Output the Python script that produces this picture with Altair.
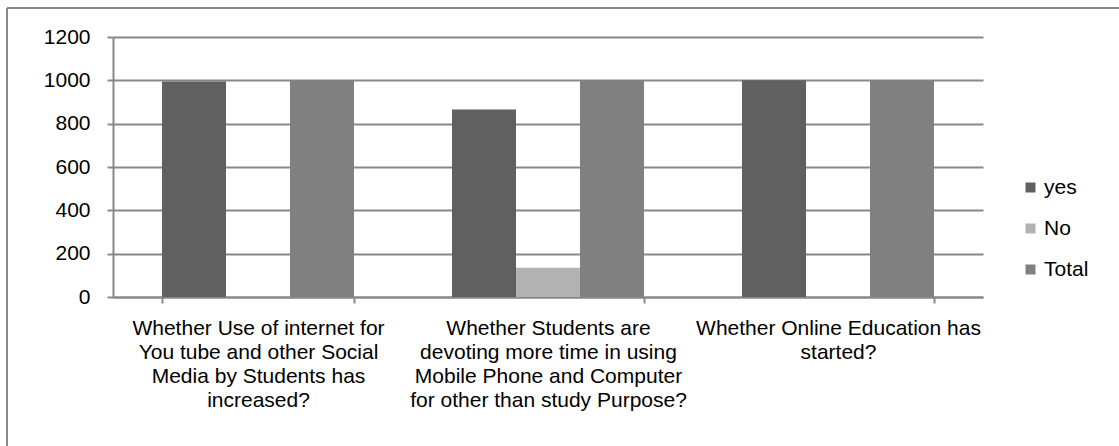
import altair as alt
import pandas as pd

categories = [
    "Whether Use of internet for\nYou tube and other Social\nMedia by Students has\nincreased?",
    "Whether Students are\ndevoting more time in using\nMobile Phone and Computer\nfor other than study Purpose?",
    "Whether Online Education has\nstarted?",
]
series = ["yes", "No", "Total"]
yes_vals = [995, 865, 1000]
no_vals = [0, 135, 0]
total_vals = [1000, 1000, 1000]
colors = ["#606060", "#b2b2b2", "#808080"]
y_ticks = [0, 200, 400, 600, 800, 1000, 1200]

rows = []
for i, c in enumerate(categories):
    rows.append({"cat": c, "series": "yes", "value": yes_vals[i]})
    rows.append({"cat": c, "series": "No", "value": no_vals[i]})
    rows.append({"cat": c, "series": "Total", "value": total_vals[i]})
df = pd.DataFrame(rows)

FONT = "Liberation Sans, Arial, sans-serif"
GRID = "#888888"

bars = alt.Chart(df).mark_bar().encode(
    x=alt.X(
        "cat:N",
        sort=categories,
        scale=alt.Scale(paddingInner=0.338, paddingOuter=0.169),
        axis=alt.Axis(
            title=None,
            labelAngle=0,
            labelLimit=400,
            labelExpr="split(datum.label, '\\n')",
            labelFont=FONT,
            labelFontSize=21,
            labelColor="#000000",
            labelLineHeight=24,
            labelBaseline="top",
            labelPadding=14,
            tickBand="extent",
            tickSize=6,
            tickColor=GRID,
            tickWidth=2,
            domainColor=GRID,
            domainWidth=2,
            grid=False,
        ),
    ),
    xOffset=alt.XOffset(
        "series:N",
        sort=series,
        scale=alt.Scale(domain=series, paddingInner=0, paddingOuter=0),
    ),
    y=alt.Y(
        "value:Q",
        scale=alt.Scale(domain=[0, 1200], nice=False),
        axis=alt.Axis(
            title=None,
            values=y_ticks,
            format="d",
            labelFont=FONT,
            labelFontSize=21,
            labelColor="#000000",
            labelPadding=17,
            tickSize=6,
            tickColor=GRID,
            tickWidth=2,
            domainColor=GRID,
            domainWidth=2,
            grid=True,
            gridColor=GRID,
            gridWidth=2,
        ),
    ),
    color=alt.Color(
        "series:N",
        sort=series,
        scale=alt.Scale(domain=series, range=colors),
        legend=alt.Legend(
            title=None,
            orient="none",
            legendX=907,
            legendY=140,
            symbolType="square",
            symbolSize=100,
            symbolStrokeWidth=0,
            labelFont=FONT,
            labelFontSize=21,
            labelColor="#000000",
            labelOffset=3,
            rowPadding=19,
            padding=0,
        ),
    ),
)

frame_df = pd.DataFrame([{"k": 1}])
top_line = alt.Chart(frame_df).mark_rule(color=GRID, strokeWidth=2).encode(
    x=alt.value(-106), x2=alt.value(1006), y=alt.value(-29)
)
left_line = alt.Chart(frame_df).mark_rule(color=GRID, strokeWidth=2).encode(
    x=alt.value(-106), y=alt.value(-29), y2=alt.value(409)
)

chart = (
    alt.layer(bars, top_line, left_line)
    .properties(
        width=870,
        height=260,
        padding={"left": 113, "top": 37, "right": 136, "bottom": 149},
        autosize=alt.AutoSizeParams(type="none"),
        background="#ffffff",
    )
    .configure_view(strokeOpacity=0)
)

chart.save("out.html", embed_options={"renderer": "svg", "actions": False})
